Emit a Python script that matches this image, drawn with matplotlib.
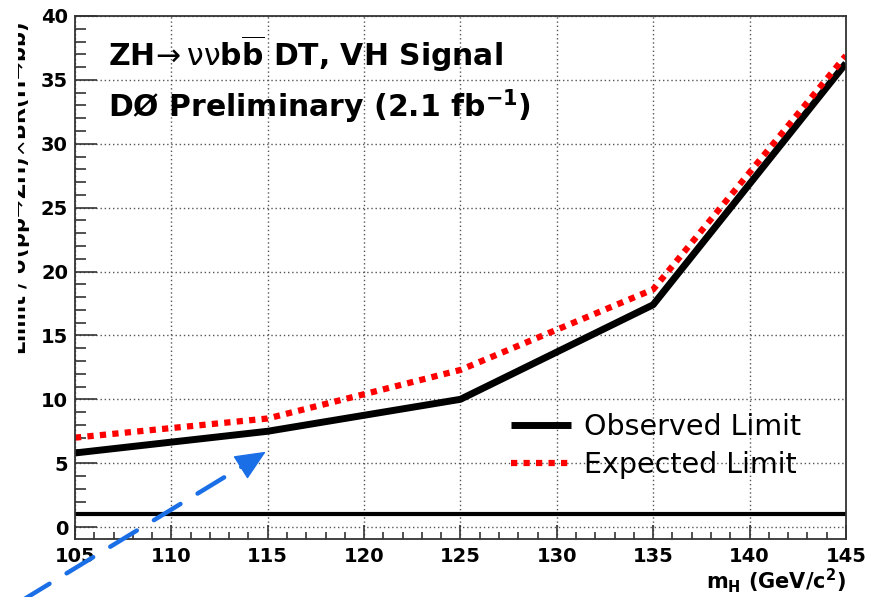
import matplotlib
matplotlib.use('Agg')
import matplotlib.pyplot as plt
from matplotlib.ticker import MultipleLocator
from matplotlib.transforms import Bbox, TransformedBbox

plt.rcParams['font.family'] = ['DejaVu Sans']
plt.rcParams['mathtext.fontset'] = 'dejavusans'

# Higgs mass points and limits (ratio to SM cross section)
mass = [105, 115, 125, 135, 145]
observed = [5.8, 7.5, 10.0, 17.4, 36.3]
expected = [7.0, 8.5, 12.3, 18.6, 36.9]
sm_ratio = 1.0

fig = plt.figure(figsize=(8.76, 5.97), dpi=100)
ax = fig.add_axes([0.0856, 0.0972, 0.880, 0.876])

ax.plot(mass, observed, color='black', lw=5, solid_capstyle='butt', label='Observed Limit')
ax.plot(mass, expected, color='#ff0000', lw=4.5, linestyle=(0, (1, 1)),
        dash_capstyle='butt', label='Expected Limit')
ax.axhline(sm_ratio, color='black', lw=3)

ax.set_xlim(105, 145)
ax.set_ylim(-0.93, 40)
ax.xaxis.set_major_locator(MultipleLocator(5))
ax.xaxis.set_minor_locator(MultipleLocator(1))
ax.yaxis.set_major_locator(MultipleLocator(5))
ax.yaxis.set_minor_locator(MultipleLocator(1))
ax.tick_params(axis='both', which='both', direction='in', top=False, right=False,
               labelsize=14, width=1.2, colors='#333333', labelcolor='black')
ax.tick_params(axis='y', which='major', length=16, pad=5)
ax.tick_params(axis='y', which='minor', length=8)
ax.tick_params(axis='x', which='major', length=10, pad=6)
ax.tick_params(axis='x', which='minor', length=5)
for lab in ax.get_xticklabels() + ax.get_yticklabels():
    lab.set_fontweight('bold')
for sp in ax.spines.values():
    sp.set_color('#333333')
    sp.set_linewidth(1.3)
ax.grid(True, which='major', color='#555555', lw=1, linestyle=(0, (1, 2)))

ax.set_xlabel(r'm$_{\mathbf{H}}$ (GeV/c$^{\mathbf{2}}$)', fontsize=15, fontweight='bold',
              ha='right')
ax.xaxis.set_label_coords(1.0, -0.052)

# y title runs off the left edge of the canvas
ytitle = fig.text(27 / 876, 1 - 355 / 597,
                  r'Limit / $\mathbf{\sigma}$(p$\overline{\mathbf{p}}\!\rightarrow\!$ZH)$\times$BR(H$\!\rightarrow\!$b$\overline{\mathbf{b}}$)',
                  fontsize=15, fontweight='bold', rotation=90, rotation_mode='anchor',
                  ha='left', va='baseline')
ytitle.set_clip_box(TransformedBbox(Bbox([[18 / 876, 0], [1, 1]]), fig.transFigure))

ax.text(0.043, 0.905,
        r'ZH$\!\rightarrow\mathrm{\nu\nu}$b$\overline{\mathbf{b}}$ DT, VH Signal',
        transform=ax.transAxes, fontsize=21.5, fontweight='bold', va='baseline')
ax.text(0.043, 0.806, r'DØ Preliminary (2.1 fb$^{\mathbf{-1}}$)',
        transform=ax.transAxes, fontsize=21.5, fontweight='bold', va='baseline')

leg = ax.legend(loc='upper left', bbox_to_anchor=(0.566, 0.24), frameon=False,
                fontsize=20.5, handlelength=2.1, handletextpad=0.45, labelspacing=0.35,
                borderpad=0, borderaxespad=0)

# dashed pointer from below the frame up to the 115 GeV observed point
tail = (102.3, -5.7)
head = (114.9, 5.9)
neck = (114.0, 5.05)
ax.annotate('', xy=neck, xytext=tail, annotation_clip=False,
            arrowprops=dict(arrowstyle='-', color='#1a6fe6', lw=3.2,
                            linestyle=(0, (7, 4.5)), shrinkA=0, shrinkB=0))
ax.annotate('', xy=head, xytext=neck, annotation_clip=False,
            arrowprops=dict(arrowstyle='-|>,head_length=0.9,head_width=0.4',
                            mutation_scale=22, color='#1a6fe6', lw=1,
                            shrinkA=0, shrinkB=0))

fig.savefig('out.png', dpi=100)
